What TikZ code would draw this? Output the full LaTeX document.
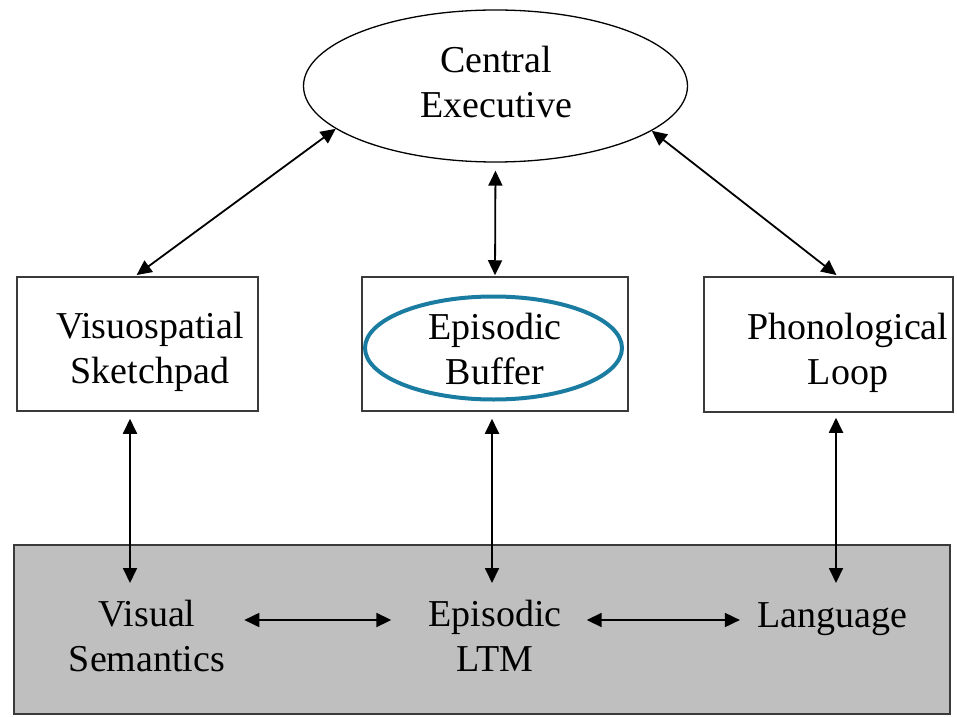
\documentclass[tikz,border=0pt]{standalone}
\usepackage{fontspec}
\setmainfont{Liberation Serif}
\usepackage{xcolor}
\usepackage{tikz}
\usetikzlibrary{calc, shapes, arrows.meta, positioning}
\definecolor{ltmgray}{HTML}{BFBFBF}
\definecolor{framegray}{HTML}{3A3A3A}
\definecolor{ringblue}{HTML}{1B7CA1}
\tikzset{
    boxnode/.style = {draw=framegray, rectangle, line width=1.5pt, inner sep=0pt, node distance=0em},
    ellipsenode/.style = {draw, ellipse, line width=1.3pt, inner sep=0pt, node distance=0em},
    ringnode/.style = {draw=ringblue, ellipse, line width=4pt, inner sep=0pt},
    textnode/.style = {draw=none, fill=none, rectangle, inner sep=0pt, anchor=north,
      font=\fontsize{38pt}{45pt}\selectfont},
    connect/.style = {black, line width=1.8pt, {Triangle[length=15pt,width=14pt]}-{Triangle[length=15pt,width=14pt]}},
    every text node part/.style={align=center}
}
\begin{document}
\begin{tikzpicture}[x=1pt, y=1pt]
    \useasboundingbox (0,0) rectangle (957,716);

    % long-term memory
    \node [name=ltm, boxnode, fill=ltmgray, line width=1.2pt,
        minimum width=936pt, minimum height=169pt] at (482,86.5) {};

    \node [name=ce, ellipsenode, minimum width=384pt, minimum height=152pt] at (495.5,630) {};
    \node [name=cetext, textnode] at (496,670) {Central\\Executive};

    \node [name=vsbox, boxnode, minimum width=241pt, minimum height=134pt] at (137.5,372) {};
    \node [name=ebbox, boxnode, minimum width=266pt, minimum height=134pt] at (495,372) {};
    \node [name=plbox, boxnode, minimum width=249pt, minimum height=135pt] at (828.5,371.5) {};

    \node [name=ring, ringnode, minimum width=257pt, minimum height=103pt] at (493.5,368) {};

    \node [name=vstext, textnode] at (150,404) {Visuospatial\\Sketchpad};
    \node [name=ebtext, textnode] at (495,403) {Episodic\\Buffer};
    \node [name=pltext, textnode] at (848,403) {Phonological\\Loop};

    \node [name=vsem, textnode] at (147,116) {Visual\\Semantics};
    \node [name=eltm, textnode] at (495,116) {Episodic\\LTM};
    \node [name=lang, textnode] at (832,114) {Language};

    % buffers to the executive
    \draw [connect, shorten >=2pt] (ce.195) -- ([xshift=-2.5pt]vsbox.north);
    \draw [connect, shorten <=8pt, shorten >=1pt] (ce.south) -- (ebbox.north);
    \draw [connect, shorten >=2pt] (ce.344) -- ([xshift=9.5pt]plbox.north);

    % buffers to long-term memory
    \draw [connect, shorten <=7pt, shorten >=17pt] ([xshift=-7.5pt]vsbox.south) -- ([xshift=-17pt]vsem.north);
    \draw [connect, shorten <=7pt, shorten >=17pt] ([xshift=-3pt]ebbox.south) -- ([xshift=-3pt]eltm.north);
    \draw [connect, shorten <=5pt, shorten >=19pt] ([xshift=7.5pt]plbox.south) -- ([xshift=4pt]lang.north);

    \draw [connect, shorten <=19pt, shorten >=37pt] ([yshift=-20pt]vsem.north east) -- ([yshift=-20pt]eltm.north west);
    \draw [connect, shorten <=25pt, shorten >=17pt] ([yshift=-20pt]eltm.north east) -- ([yshift=-18pt]lang.north west);
\end{tikzpicture}
\end{document}
